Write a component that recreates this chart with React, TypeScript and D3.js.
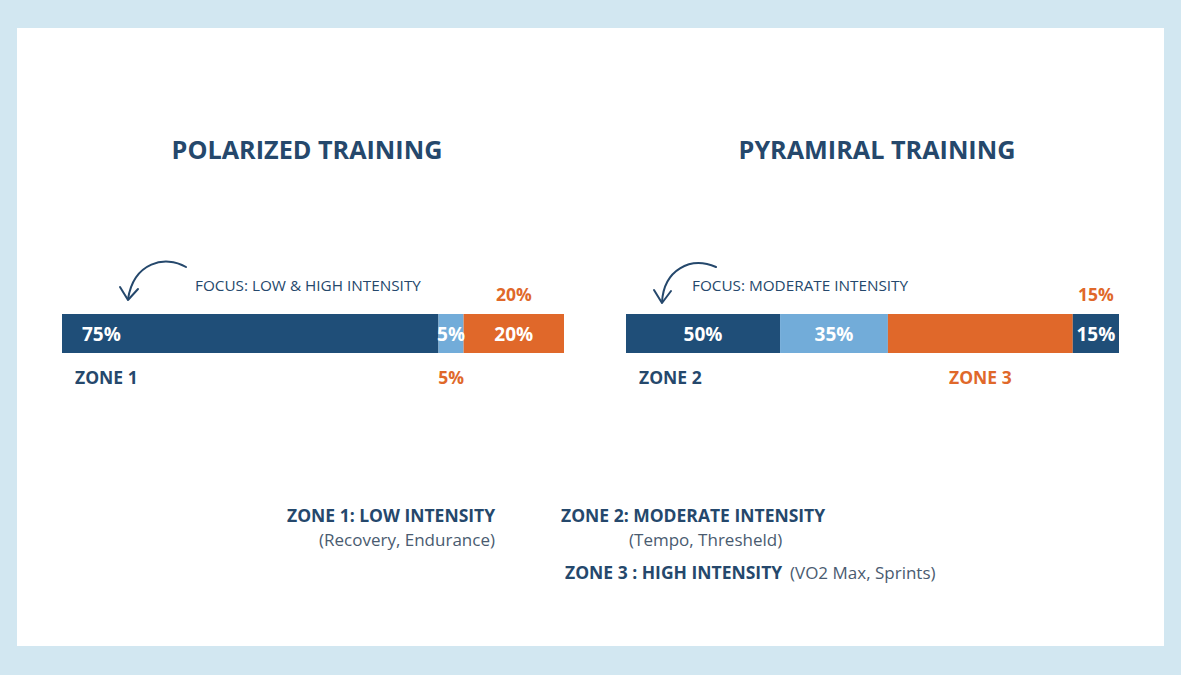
import { useEffect } from 'react';
import * as d3 from 'd3';

// zone palette
const zoneColors: Record<string, string> = {
  z1: '#1f4e78',
  z2: '#72acd9',
  z3: '#e0682a',
};
const navy = '#25486c';
const orange = '#e0682a';
const grey = '#4a5b70';

// polarized split
const polarizedValues = [75, 5, 20];
const polarizedZones = ['z1', 'z2', 'z3'];
const polarizedLabels = ['75%', '5%', '20%'];
const polarizedNotes = [
  { seg: 2, side: 'above', text: '20%', tone: 'orange', align: 'middle' },
  { seg: 1, side: 'below', text: '5%', tone: 'orange', align: 'middle' },
  { seg: 0, side: 'below', text: 'ZONE 1', tone: 'navy', align: 'start' },
];

// pyramidal split (zone 3 block has no printed value)
const pyramidalValues = [50, 35, 60, 15];
const pyramidalZones = ['z1', 'z2', 'z3', 'z1'];
const pyramidalLabels = ['50%', '35%', '', '15%'];
const pyramidalNotes = [
  { seg: 3, side: 'above', text: '15%', tone: 'orange', align: 'middle' },
  { seg: 0, side: 'below', text: 'ZONE 2', tone: 'navy', align: 'start' },
  { seg: 2, side: 'below', text: 'ZONE 3', tone: 'orange', align: 'middle' },
];

// zone key
const keyTitles = ['ZONE 1: LOW INTENSITY', 'ZONE 2: MODERATE INTENSITY', 'ZONE 3 : HIGH INTENSITY'];
const keyDetails = ['(Recovery, Endurance)', '(Tempo, Thresheld)', '(VO2 Max, Sprints)'];

const W = 1181;
const H = 675;
const BAR_Y = 314;
const BAR_H = 39;
const FONT = "'Open Sans', 'DejaVu Sans', sans-serif";

type Note = { seg: number; side: string; text: string; tone: string; align: string };

function StackedBar({
  values,
  zones,
  labels,
  notes,
  range,
}: {
  values: number[];
  zones: string[];
  labels: string[];
  notes: Note[];
  range: [number, number];
}) {
  const x = d3.scaleLinear().domain([0, d3.sum(values)]).range(range);
  const ends = Array.from(d3.cumsum(values));
  const segs = values.map((v, i) => {
    const x0 = x(ends[i] - v);
    const x1 = x(ends[i]);
    return { x0, x1, w: x1 - x0, zone: zones[i], label: labels[i] };
  });

  return (
    <g>
      {segs.map((s, i) => (
        <rect key={i} x={s.x0} y={BAR_Y} width={s.w} height={BAR_H} fill={zoneColors[s.zone]} />
      ))}
      {segs.map((s, i) => {
        const wide = s.w > 200;
        return (
          <text
            key={'l' + i}
            x={wide ? s.x0 + 20 : (s.x0 + s.x1) / 2}
            y={BAR_Y + BAR_H / 2 + 7}
            textAnchor={wide ? 'start' : 'middle'}
            fill="#fff"
            fontSize={19}
            fontWeight={700}
          >
            {s.label}
          </text>
        );
      })}
      {notes.map((n, i) => {
        const s = segs[n.seg];
        return (
          <text
            key={'n' + i}
            x={n.align === 'start' ? s.x0 + 13 : (s.x0 + s.x1) / 2}
            y={n.side === 'above' ? BAR_Y - 13 : BAR_Y + BAR_H + 31}
            textAnchor={n.align}
            fill={n.tone === 'orange' ? orange : navy}
            fontSize={17.5}
            fontWeight={700}
          >
            {n.text}
          </text>
        );
      })}
    </g>
  );
}

function Arrow({ d, head }: { d: string; head: string }) {
  return (
    <g fill="none" stroke={navy} strokeWidth={2} strokeLinecap="round" strokeLinejoin="round">
      <path d={d} />
      <path d={head} />
    </g>
  );
}

export default function App() {
  useEffect(() => {
    document.body.style.margin = '0';
  }, []);

  const leftRange: [number, number] = [62, 564];
  const rightRange: [number, number] = [626, 1119];
  const lx = leftRange[0];
  const rx = rightRange[0];

  return (
    <svg width={W} height={H} style={{ display: 'block' }} fontFamily={FONT}>
      <rect width={W} height={H} fill="#d2e7f1" />
      <rect x={17} y={28} width={1147} height={618} fill="#ffffff" />

      <text x={307} y={159} textAnchor="middle" fill={navy} fontSize={25.2} fontWeight={700}>
        POLARIZED TRAINING
      </text>
      <text x={877} y={159} textAnchor="middle" fill={navy} fontSize={25.2} fontWeight={700}>
        PYRAMIRAL TRAINING
      </text>

      <Arrow
        d={`M${lx + 124},267 C${lx + 103},255 ${lx + 72},262 ${lx + 66},299`}
        head={`M${lx + 58},287 L${lx + 66},300 L${lx + 76},289`}
      />
      <text x={lx + 133} y={291} fill={navy} fontSize={15.3}>
        FOCUS: LOW &amp; HIGH INTENSITY
      </text>

      <Arrow
        d={`M${rx + 90},267 C${rx + 64},256 ${rx + 38},270 ${rx + 36},302`}
        head={`M${rx + 28},290 L${rx + 36},303 L${rx + 45},291`}
      />
      <text x={rx + 66} y={291} fill={navy} fontSize={15.3}>
        FOCUS: MODERATE INTENSITY
      </text>

      <StackedBar
        values={polarizedValues}
        zones={polarizedZones}
        labels={polarizedLabels}
        notes={polarizedNotes}
        range={leftRange}
      />
      <StackedBar
        values={pyramidalValues}
        zones={pyramidalZones}
        labels={pyramidalLabels}
        notes={pyramidalNotes}
        range={rightRange}
      />

      <g fontSize={17}>
        <text x={287} y={522} fill={navy} fontWeight={700} fontSize={17.5}>{keyTitles[0]}</text>
        <text x={319} y={546} fill={grey}>{keyDetails[0]}</text>
        <text x={561} y={522} fill={navy} fontWeight={700} fontSize={17.5}>{keyTitles[1]}</text>
        <text x={629} y={546} fill={grey}>{keyDetails[1]}</text>
        <text x={565} y={579} fill={navy} fontWeight={700} fontSize={17.5}>{keyTitles[2]}</text>
        <text x={790} y={579} fill={grey}>{keyDetails[2]}</text>
      </g>
    </svg>
  );
}
